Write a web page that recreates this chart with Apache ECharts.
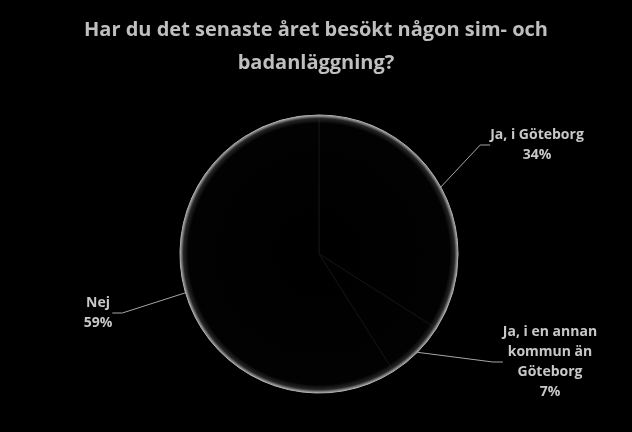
<!DOCTYPE html>
<html>
<head>
<meta charset="utf-8">
<script src="https://cdn.jsdelivr.net/npm/echarts@6/dist/echarts.min.js"></script>
<style>
  html, body { margin: 0; padding: 0; background: #000; }
  #chart { width: 632px; height: 432px; }
</style>
</head>
<body>
<div id="chart"></div>
<script>
const categories = ['Ja, i Göteborg', 'Ja, i en annan\nkommun än\nGöteborg', 'Nej'];
const percents = [34, 7, 59];

// where each label sits (center of the text block)
const labelSpots = [[537, 145], [550, 362], [98, 313]];

const cx = 319, cy = 254, rad = 139;
const rim = {
  type: 'radial', x: cx, y: cy, r: rad, global: true,
  colorStops: [
    { offset: 0, color: '#000' },
    { offset: 0.94, color: '#020202' },
    { offset: 0.975, color: '#262626' },
    { offset: 0.993, color: '#8a8a8a' },
    { offset: 1, color: '#b5b5b5' }
  ]
};
const edge = {
  type: 'radial', x: cx, y: cy, r: rad, global: true,
  colorStops: [
    { offset: 0, color: '#121212' },
    { offset: 0.94, color: '#121212' },
    { offset: 0.975, color: '#2a2a2a' },
    { offset: 0.993, color: '#8a8a8a' },
    { offset: 1, color: '#b5b5b5' }
  ]
};

const chart = echarts.init(document.getElementById('chart'));
chart.setOption({
  backgroundColor: '#000',
  animation: false,
  title: {
    text: 'Har du det senaste året besökt någon sim- och\nbadanläggning?',
    left: 'center',
    top: 9,
    textStyle: {
      color: '#bfbfbf',
      fontFamily: 'Open Sans',
      fontWeight: 'bold',
      fontSize: 20,
      lineHeight: 33
    }
  },
  series: [{
    type: 'pie',
    center: [cx, cy],
    radius: rad,
    startAngle: 90,
    clockwise: true,
    data: categories.map((c, i) => ({ name: c, value: percents[i] })),
    itemStyle: { color: rim, borderColor: edge, borderWidth: 1 },
    emphasis: { disabled: true },
    label: {
      color: '#c8c8c8',
      fontFamily: 'Open Sans',
      fontWeight: 'bold',
      fontSize: 14,
      lineHeight: 20,
      align: 'center',
      formatter: p => p.name + '\n' + p.value + '%'
    },
    labelLine: { lineStyle: { color: '#a6a6a6', width: 1 }, length: 20, length2: 10 },
    labelLayout: p => ({
      x: labelSpots[p.dataIndex][0],
      y: labelSpots[p.dataIndex][1],
      align: 'center',
      verticalAlign: 'middle'
    })
  }]
});
</script>
</body>
</html>
